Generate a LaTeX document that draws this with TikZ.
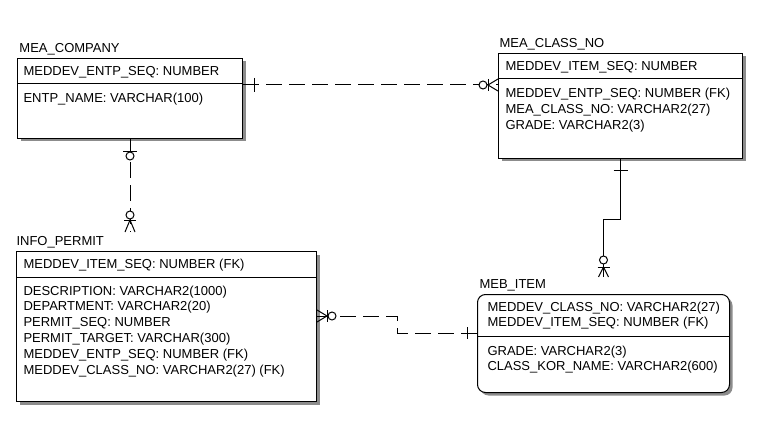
\documentclass[tikz,border=0pt]{standalone}
\usepackage{fontspec}
\setmainfont{Liberation Sans}
\usetikzlibrary{calc,shadows}

\begin{document}
\begin{tikzpicture}[x=1pt, y=-1pt, font=\fontsize{13}{15.8}\selectfont, line width=1pt, entity/.style = {draw, fill=white, inner sep=0pt, anchor=north west, drop shadow={shadow xshift=3pt, shadow yshift=-3pt, fill=black!45, opacity=1}}, ename/.style = {anchor=base west, inner sep=0pt}, attr/.style = {anchor=base west, inner sep=0pt, align=left}, rel/.style = {dash pattern=on 16pt off 7pt}]
                    \useasboundingbox (0,0) rectangle (763,425);
                    \node[entity, minimum width=225pt, minimum height=80pt] (company) at (17,58) {};
                    \node[entity, minimum width=244pt, minimum height=105pt] (classno) at (498,53) {};
                    \node[entity, minimum width=300pt, minimum height=150pt] (permit) at (16,251) {};
                    \node[entity, rounded corners=8pt, minimum width=252pt, minimum height=98pt] (item) at (477,294) {};
                    \draw ($(company.north west)+(0,26)$) -- ($(company.north east)+(0,26)$);
                    \draw ($(classno.north west)+(0,26)$) -- ($(classno.north east)+(0,26)$);
                    \draw ($(permit.north west)+(0,26)$) -- ($(permit.north east)+(0,26)$);
                    \draw ($(item.north west)+(0,42)$) -- ($(item.north east)+(0,42)$);
                    \node[ename] (companyname) at ($(company.north west)+(2,-5)$) {MEA\_COMPANY};
                    \node[ename] (classnoname) at ($(classno.north west)+(1,-5)$) {MEA\_CLASS\_NO};
                    \node[ename] (permitname) at ($(permit.north west)+(0,-6)$) {INFO\_PERMIT};
                    \node[ename] (itemname) at ($(item.north west)+(2,-6)$) {MEB\_ITEM};
                    \node[attr] (companykey) at ($(company.north west)+(6,18)$) {MEDDEV\_ENTP\_SEQ: NUMBER};
                    \node[attr] (companyattr) at ($(company.north west)+(6,45)$) {ENTP\_NAME: VARCHAR(100)};
                    \node[attr] (classnokey) at ($(classno.north west)+(7,18)$) {MEDDEV\_ITEM\_SEQ: NUMBER};
                    \node[attr] (classnoattr) at ($(classno.north west)+(7,76.6)$) {MEDDEV\_ENTP\_SEQ: NUMBER (FK)\\MEA\_CLASS\_NO: VARCHAR2(27)\\GRADE: VARCHAR2(3)};
                    \node[attr] (permitkey) at ($(permit.north west)+(7,17)$) {MEDDEV\_ITEM\_SEQ: NUMBER (FK)};
                    \node[attr] (permitattr) at ($(permit.north west)+(7,123)$) {DESCRIPTION: VARCHAR2(1000)\\DEPARTMENT: VARCHAR2(20)\\PERMIT\_SEQ: NUMBER\\PERMIT\_TARGET: VARCHAR(300)\\MEDDEV\_ENTP\_SEQ: NUMBER (FK)\\MEDDEV\_CLASS\_NO: VARCHAR2(27) (FK)};
                    \node[attr] (itemkey) at ($(item.north west)+(10,32.8)$) {MEDDEV\_CLASS\_NO: VARCHAR2(27)\\MEDDEV\_ITEM\_SEQ: NUMBER (FK)};
                    \node[attr] (itemattr) at ($(item.north west)+(10,76.8)$) {GRADE: VARCHAR2(3)\\CLASS\_KOR\_NAME: VARCHAR2(600)};
                    \coordinate (r1) at (0,85);
                    \draw[rel] (company.east |- r1) -- (classno.west |- r1);
                    \draw (company.east |- r1) ++(11,-7) -- ++(0,14);
                    \draw (classno.west |- r1) ++(-10,-6) -- ++(0,12);
                    \draw (classno.west |- r1) ++(0,-6) -- ++(-10,6) -- ++(10,6);
                    \draw[fill=white] (classno.west |- r1) ++(-15,0) circle (4pt);
                    \coordinate (permitin) at ($(company.south |- permit.north)+(0,-19)$);
                    \draw[rel] (company.south) -- (permitin);
                    \draw (company.south) ++(-7,13) -- ++(14,0);
                    \draw[fill=white] (company.south) ++(0,17) circle (4pt);
                    \draw (permitin) ++(-6,-12) -- ++(12,0);
                    \draw (permitin) ++(-5,0) -- ++(5,-12) -- ++(5,12);
                    \draw[fill=white] (permitin) ++(0,-17) circle (4pt);
                    \coordinate (itemin) at ($(item.north)+(0,-17)$);
                    \draw (classno.south) -- ++(0,60) -| (itemin);
                    \draw (classno.south) ++(-7,11) -- ++(14,0);
                    \draw (itemin) ++(-6,-10) -- ++(12,0);
                    \draw (itemin) ++(-5,0) -- ++(5,-10) -- ++(5,10);
                    \draw[fill=white] (itemin) ++(0,-17) circle (4pt);
                    \coordinate (r4a) at (0,316);
                    \coordinate (r4b) at (397,333);
                    \draw[rel] (permit.east |- r4a) -| (r4b) -- (item.west |- r4b);
                    \draw (permit.east |- r4a) ++(0,-6) -- ++(10,6) -- ++(-10,6);
                    \draw (permit.east |- r4a) ++(10,-6) -- ++(0,12);
                    \draw[fill=white] (permit.east |- r4a) ++(15,0) circle (4pt);
                    \draw (item.west |- r4b) ++(-10,-6) -- ++(0,12);
                \end{tikzpicture}
\end{document}
